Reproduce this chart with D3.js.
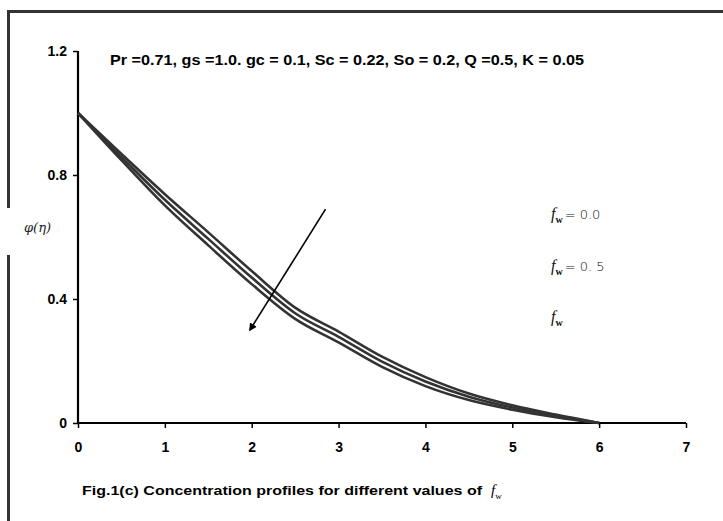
<!DOCTYPE html>
<html>
<head>
<meta charset="utf-8">
<script src="https://cdn.jsdelivr.net/npm/d3@7"></script>
<style>
  body { margin: 0; background: #fff; }
  svg { display: block; }
  .tick text { font-family: "Liberation Sans Narrow", "Liberation Sans", sans-serif; font-weight: bold; font-size: 14px; fill: #000; }
</style>
</head>
<body>
<div id="chart"></div>
<script>
// eta values (x) and concentration phi(eta) for each suction value fw
var eta = [0, 0.5, 1, 1.5, 2, 2.5, 3, 3.5, 4, 4.5, 5, 5.5, 6];
var phiFw00 = [1.0, 0.868, 0.738, 0.615, 0.49, 0.372, 0.295, 0.214, 0.148, 0.095, 0.057, 0.027, 0];
var phiFw05 = [1.0, 0.858, 0.72, 0.594, 0.469, 0.354, 0.278, 0.198, 0.134, 0.085, 0.05, 0.023, 0];
var phiFw10 = [1.0, 0.848, 0.702, 0.573, 0.448, 0.336, 0.26, 0.181, 0.119, 0.074, 0.043, 0.019, 0];
var xTicks = [0, 1, 2, 3, 4, 5, 6, 7];
var yTicks = [0, 0.4, 0.8, 1.2];
var yTickLabels = ["0", "0.4", "0.8", "1.2"];
var legendLabels = ["= 0.0", "= 0. 5", ""];
// arrow drawn in data units: from upper right towards lower left
var arrowFrom = [2.85, 0.69];
var arrowTo = [1.98, 0.30];

var width = 723, height = 521;

var svg = d3.select("#chart").append("svg")
    .attr("width", width)
    .attr("height", height);

// outer frame (runs off the right and bottom edges), broken behind the y label
var frame = svg.append("g").attr("fill", "#333");
frame.append("rect")
    .attr("x", 7).attr("y", 10)
    .attr("width", 716).attr("height", 3);
frame.append("rect")
    .attr("x", 7).attr("y", 10)
    .attr("width", 3).attr("height", 198);
frame.append("rect")
    .attr("x", 7).attr("y", 255)
    .attr("width", 3).attr("height", 266);

var x = d3.scaleLinear().domain([0, 7]).range([78, 686]);
var y = d3.scaleLinear().domain([0, 1.2]).range([423, 51]);

// axes
var xAxis = d3.axisBottom(x)
    .tickValues(xTicks)
    .tickSize(5)
    .tickPadding(14)
    .tickFormat(d3.format("d"));
var yAxis = d3.axisLeft(y)
    .tickValues(yTicks)
    .tickSize(5)
    .tickPadding(6)
    .tickFormat(function(d, i){ return yTickLabels[i]; });

var gx = svg.append("g")
    .attr("transform", "translate(0," + y(0) + ")")
    .call(xAxis);
var gy = svg.append("g")
    .attr("transform", "translate(" + x(0) + ",0)")
    .call(yAxis);

[gx, gy].forEach(function(g){
  g.select(".domain").attr("stroke", "#000").attr("stroke-width", 2.2);
  g.selectAll(".tick line").attr("stroke", "#000").attr("stroke-width", 1.5);
});
gy.select(".domain").attr("d", "M0," + y(1.2) + "V" + y(0));
gx.select(".domain").attr("d", "M" + x(0) + ",0H" + x(7));

// curves
var series = [phiFw00, phiFw05, phiFw10];
var line = d3.line()
    .x(function(d){ return x(d[0]); })
    .y(function(d){ return y(d[1]); })
    .curve(d3.curveMonotoneX);

svg.append("g").selectAll("path")
    .data(series)
  .enter().append("path")
    .attr("d", function(s){ return line(eta.map(function(e, i){ return [e, s[i]]; })); })
    .attr("fill", "none")
    .attr("stroke", "#333")
    .attr("stroke-width", 2.6);

// arrow
svg.append("defs").append("marker")
    .attr("id", "head")
    .attr("viewBox", "0 0 10 10")
    .attr("refX", 8).attr("refY", 5)
    .attr("markerWidth", 5).attr("markerHeight", 5)
    .attr("orient", "auto")
  .append("path")
    .attr("d", "M0,0L10,5L0,10z")
    .attr("fill", "#000");

svg.append("line")
    .attr("x1", x(arrowFrom[0])).attr("y1", y(arrowFrom[1]))
    .attr("x2", x(arrowTo[0])).attr("y2", y(arrowTo[1]))
    .attr("stroke", "#000")
    .attr("stroke-width", 1.6)
    .attr("marker-end", "url(#head)");

// parameter line
svg.append("text")
    .attr("x", 110).attr("y", 65)
    .attr("textLength", 474)
    .attr("lengthAdjust", "spacingAndGlyphs")
    .style("font-family", "'Liberation Sans Narrow', 'Liberation Sans', sans-serif")
    .style("font-weight", "bold")
    .style("font-size", "14px")
    .text("Pr =0.71, gs =1.0. gc = 0.1, Sc = 0.22, So = 0.2, Q =0.5, K = 0.05");

// y label
svg.append("text")
    .attr("x", 24).attr("y", 232)
    .style("font-family", "'DejaVu Serif', serif")
    .style("font-style", "italic")
    .style("font-size", "13px")
    .style("fill", "#222")
    .text("\u03c6(\u03b7)");

// legend labels f_w
var legend = svg.append("g").selectAll("text")
    .data(legendLabels)
  .enter().append("text")
    .attr("x", 551)
    .attr("y", function(d, i){ return 219 + i * 51.5; })
    .style("font-family", "'DejaVu Sans', sans-serif")
    .style("font-size", "13px")
    .style("fill", "#111");
legend.append("tspan")
    .style("font-family", "'Liberation Serif', serif")
    .style("font-style", "italic")
    .style("font-size", "16px")
    .text("f");
legend.append("tspan")
    .attr("dy", 4)
    .style("font-family", "'Liberation Serif', serif")
    .style("font-weight", "bold")
    .style("font-size", "10px")
    .text("w");
legend.append("tspan")
    .attr("dy", -4)
    .attr("dx", 2)
    .style("font-weight", "300")
    .text(function(d){ return d; });

// caption
var cap = svg.append("text")
    .attr("x", 82).attr("y", 495)
    .style("font-family", "'Liberation Sans Narrow', 'Liberation Sans', sans-serif")
    .style("font-size", "13px")
    .style("font-weight", "bold");
cap.append("tspan")
    .attr("textLength", 400)
    .attr("lengthAdjust", "spacingAndGlyphs")
    .text("Fig.1(c) Concentration profiles for different values of");
cap.append("tspan")
    .attr("dx", 9)
    .style("font-family", "'Liberation Serif', serif")
    .style("font-style", "italic")
    .style("font-weight", "normal")
    .style("font-size", "15px")
    .text("f");
cap.append("tspan")
    .attr("dy", 4)
    .style("font-family", "'Liberation Serif', serif")
    .style("font-weight", "normal")
    .style("font-size", "9px")
    .text("w");
</script>
</body>
</html>
